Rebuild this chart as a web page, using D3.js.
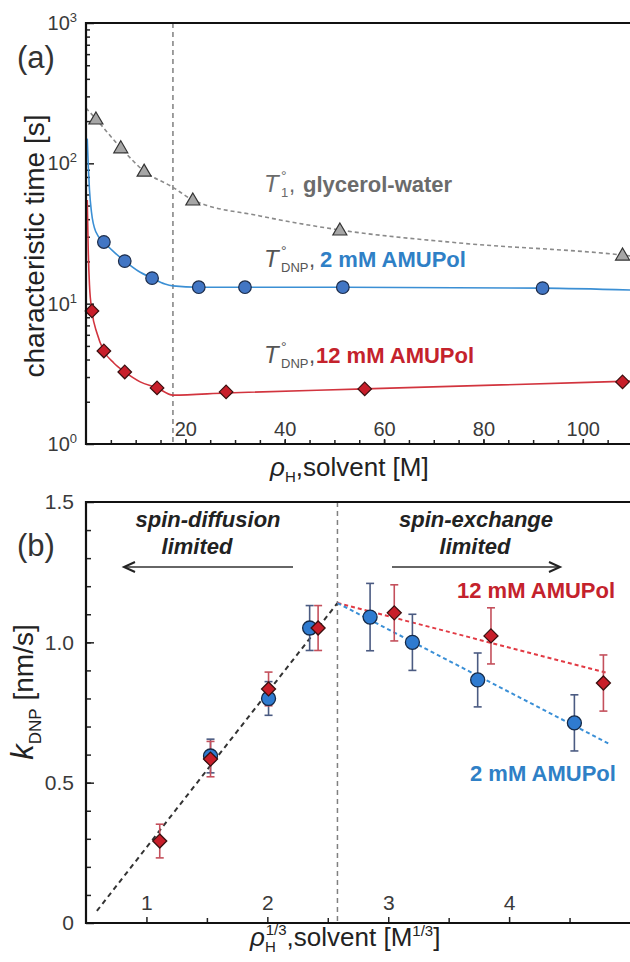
<!DOCTYPE html>
<html>
<head>
<meta charset="utf-8">
<script src="https://cdn.jsdelivr.net/npm/d3@7"></script>
<style>
body{margin:0;background:#fff;}
text{font-family:Arial,"Liberation Sans",Helvetica,sans-serif;}
</style>
</head>
<body>
<svg id="fig" width="630" height="962"></svg>
<script>
// ---- panel (a): characteristic times vs. solvent proton density ----
var t1Rho  = [2.0, 7.0, 11.7, 21.5, 51.1, 108.0];
var t1Time = [207, 129, 88, 54.8, 33.5, 22.2];
var t1FitRho  = [0, 2.0, 7.0, 11.7, 17.4, 21.5, 35, 51.1, 75, 108, 110];
var t1FitTime = [248, 207, 129, 88, 67.8, 54.8, 42.2, 33.5, 27.1, 22.2, 21.8];

var dnp2Rho  = [3.6, 7.8, 13.3, 22.7, 32.0, 51.7, 91.9];
var dnp2Time = [27.5, 20.1, 15.2, 13.1, 13.1, 13.1, 12.9];
var dnp2FitRho  = [0.25, 0.45, 0.7, 1.1, 2.0, 3.6, 5.6, 7.8, 10.5, 13.3, 15.9, 17.5, 22.7, 51.7, 91.9, 110];
var dnp2FitTime = [150, 97.3, 64.6, 45.0, 32.4, 27.5, 23.4, 20.1, 17.1, 15.2, 13.8, 13.4, 13.1, 13.1, 12.9, 12.5];

var dnp12Rho  = [1.2, 3.6, 7.8, 14.3, 28.2, 56.1, 108.0];
var dnp12Time = [8.87, 4.60, 3.26, 2.51, 2.35, 2.47, 2.77];
var dnp12FitRho  = [0.25, 0.45, 0.7, 1.2, 2.2, 3.6, 5.6, 7.8, 10.9, 14.3, 17.5, 28.2, 56.1, 110];
var dnp12FitTime = [54.8, 24.1, 13.6, 8.87, 6.18, 4.60, 3.78, 3.26, 2.77, 2.51, 2.23, 2.31, 2.47, 2.81];

var rhoCross = 17.5;
var topXTicks = [20, 40, 60, 80, 100];
var topYTicks = [1, 10, 100, 1000];

// ---- panel (b): kDNP vs. rho^(1/3) ----
var k12Rho = [1.11, 1.53, 2.01, 2.42, 3.05, 3.85, 4.78];
var k12    = [0.292, 0.584, 0.834, 1.051, 1.105, 1.023, 0.855];
var k12Err = [0.06, 0.063, 0.06, 0.08, 0.10, 0.10, 0.10];
var k2Rho  = [1.53, 2.01, 2.35, 2.85, 3.20, 3.74, 4.54];
var k2     = [0.595, 0.80, 1.051, 1.09, 1.00, 0.866, 0.713];
var k2Err  = [0.06, 0.06, 0.08, 0.12, 0.10, 0.096, 0.10];

var fitLinRho = [0.59, 2.58], fitLinK = [0.043, 1.14];
var fit12Rho  = [2.58, 4.82], fit12K  = [1.14, 0.89];
var fit2Rho   = [2.58, 4.82], fit2K   = [1.14, 0.64];

var rhoCrossCube = 2.58;
var botXTicks = [1, 2, 3, 4];
var botYTicks = [0, 0.5, 1.0, 1.5];

var svg = d3.select("#fig");
var L = 86, R = 630;

function zip(xs, ys) { return xs.map((x, i) => ({x: x, y: ys[i]})); }

// ================= panel (a) =================
var xA = d3.scaleLinear().domain([0, 109.5]).range([L, R]);
var yA = d3.scaleLog().domain([1, 1000]).range([444, 23]);

var gA = svg.append("g");

// minor ticks
var minorLog = [];
[1, 10, 100].forEach(b => d3.range(2, 10).forEach(m => minorLog.push(b * m)));
gA.append("g").attr("transform", `translate(${L},0)`)
  .call(d3.axisLeft(yA).tickValues(minorLog).tickFormat("").tickSize(-4))
  .call(g => g.select(".domain").remove());
gA.append("g").attr("transform", `translate(${L},0)`)
  .call(d3.axisLeft(yA).tickValues(topYTicks).tickSize(-8).tickPadding(9))
  .call(g => g.select(".domain").remove())
  .call(g => g.selectAll("text").each(function(d) {
      var t = d3.select(this).text("").attr("font-size", 20).attr("fill", "#3a3a3a");
      t.append("tspan").text("10");
      t.append("tspan").attr("font-size", 13).attr("dy", "-0.6em").text(Math.round(Math.log10(d)));
  }));

gA.append("g").attr("transform", "translate(0,444)")
  .call(d3.axisTop(xA).tickValues(d3.range(5, 110, 5)).tickFormat("").tickSize(4))
  .call(g => g.select(".domain").remove());
gA.append("g").attr("transform", "translate(0,444)")
  .call(d3.axisTop(xA).tickValues(topXTicks).tickSize(5).tickPadding(3))
  .call(g => g.select(".domain").remove())
  .call(g => g.selectAll("text").attr("font-size", 20).attr("fill", "#3a3a3a"));

gA.selectAll(".tick line").attr("stroke", "#222").attr("stroke-width", 1.5);

// vertical dashed line
gA.append("line")
  .attr("x1", xA(rhoCross)).attr("x2", xA(rhoCross))
  .attr("y1", 23).attr("y2", 444)
  .attr("stroke", "#808080").attr("stroke-width", 1.5).attr("stroke-dasharray", "5,4");

var lineA = d3.line().x(d => xA(d.x)).y(d => yA(d.y)).curve(d3.curveMonotoneX);

gA.append("path").attr("d", lineA(zip(t1FitRho, t1FitTime)))
  .attr("fill", "none").attr("stroke", "#8a8a8a").attr("stroke-width", 1.6).attr("stroke-dasharray", "4,3");
gA.append("path").attr("d", lineA(zip(dnp2FitRho, dnp2FitTime)))
  .attr("fill", "none").attr("stroke", "#3b8fd4").attr("stroke-width", 1.6);
gA.append("path").attr("d", lineA(zip(dnp12FitRho, dnp12FitTime)))
  .attr("fill", "none").attr("stroke", "#d2343e").attr("stroke-width", 1.6);

var triPath = "M0,-7L7,5L-7,5Z";
var diaPath = function(r) { return `M0,${-r}L${r},0L0,${r}L${-r},0Z`; };

gA.selectAll(".tri").data(zip(t1Rho, t1Time)).join("path")
  .attr("d", triPath).attr("transform", d => `translate(${xA(d.x)},${yA(d.y)})`)
  .attr("fill", "#a6a6a6").attr("stroke", "#333").attr("stroke-width", 1.2);
gA.selectAll(".c2").data(zip(dnp2Rho, dnp2Time)).join("circle")
  .attr("cx", d => xA(d.x)).attr("cy", d => yA(d.y)).attr("r", 6.3)
  .attr("fill", "#4276c4").attr("stroke", "#1d2d4a").attr("stroke-width", 1.2);
gA.selectAll(".d12").data(zip(dnp12Rho, dnp12Time)).join("path")
  .attr("d", diaPath(6.8)).attr("transform", d => `translate(${xA(d.x)},${yA(d.y)})`)
  .attr("fill", "#c81e2a").attr("stroke", "#3a1010").attr("stroke-width", 1.2);

// frame
gA.append("path").attr("d", `M${R},23H${L}V444H${R}`)
  .attr("fill", "none").attr("stroke", "#111").attr("stroke-width", 2.2);

// labels in panel (a)
function tLabel(y, sub, commaX, rest, restX, restColor, tColor) {
  var t = svg.append("text").attr("y", y).attr("fill", tColor);
  t.append("tspan").attr("x", 264).attr("font-size", 24).attr("font-style", "italic").text("T");
  t.append("tspan").attr("x", 281).attr("dy", -11).attr("font-size", 14).text("\u00b0");
  t.append("tspan").attr("x", 281).attr("dy", 16).attr("font-size", 13).text(sub);
  t.append("tspan").attr("x", commaX).attr("dy", -5).attr("font-size", 22).text(",");
  t.append("tspan").attr("x", restX).attr("font-size", 22).attr("font-weight", "bold")
    .attr("fill", restColor).text(rest);
}
tLabel(192, "1", 289, "glycerol-water", 303, "#6b6b6b", "#6b6b6b");
tLabel(267, "DNP", 309, "2 mM AMUPol", 320, "#2f80c6", "#555");
tLabel(363, "DNP", 309, "12 mM AMUPol", 316, "#c4222c", "#555");

svg.append("text").attr("x", 17).attr("y", 68).attr("font-size", 31).attr("fill", "#333").text("(a)");

svg.append("text").attr("transform", "translate(44,246) rotate(-90)")
  .attr("text-anchor", "middle").attr("font-size", 28).attr("fill", "#222")
  .text("characteristic time [s]");

var xtA = svg.append("text").attr("x", 270).attr("y", 476).attr("font-size", 26).attr("fill", "#222");
xtA.append("tspan").attr("font-style", "italic").text("\u03c1");
xtA.append("tspan").attr("font-size", 15).attr("dy", 6).text("H");
xtA.append("tspan").attr("dy", -6).text(",solvent [M]");

// ================= panel (b) =================
var xB = d3.scaleLinear().domain([0.5, 5]).range([L, R]);
var yB = d3.scaleLinear().domain([0, 1.5]).range([923, 502]);
var gB = svg.append("g");

gB.append("g").attr("transform", `translate(${L},0)`)
  .call(d3.axisLeft(yB).tickValues(d3.range(1, 15).map(i => i / 10)).tickFormat("").tickSize(-5))
  .call(g => g.select(".domain").remove());
gB.append("g").attr("transform", `translate(${L},0)`)
  .call(d3.axisLeft(yB).tickValues(botYTicks).tickSize(-8).tickPadding(12)
        .tickFormat(d => d === 0 ? "0" : d3.format(".1f")(d)))
  .call(g => g.select(".domain").remove())
  .call(g => g.selectAll("text").attr("font-size", 21).attr("fill", "#3a3a3a"));

gB.append("g").attr("transform", "translate(0,923)")
  .call(d3.axisTop(xB).tickValues([1.5, 2.5, 3.5, 4.5]).tickFormat("").tickSize(5))
  .call(g => g.select(".domain").remove());
gB.append("g").attr("transform", "translate(0,923)")
  .call(d3.axisTop(xB).tickValues(botXTicks).tickSize(6).tickPadding(7).tickFormat(d3.format("d")))
  .call(g => g.select(".domain").remove())
  .call(g => g.selectAll("text").attr("font-size", 21).attr("fill", "#3a3a3a"));

gB.selectAll(".tick line").attr("stroke", "#222").attr("stroke-width", 1.5);

gB.append("line")
  .attr("x1", xB(rhoCrossCube)).attr("x2", xB(rhoCrossCube))
  .attr("y1", 502).attr("y2", 923)
  .attr("stroke", "#808080").attr("stroke-width", 1.5).attr("stroke-dasharray", "5,4");

var lineB = d3.line().x(d => xB(d.x)).y(d => yB(d.y));
gB.append("path").attr("d", lineB(zip(fitLinRho, fitLinK)))
  .attr("fill", "none").attr("stroke", "#333").attr("stroke-width", 2).attr("stroke-dasharray", "5,4");
gB.append("path").attr("d", lineB(zip(fit12Rho, fit12K)))
  .attr("fill", "none").attr("stroke", "#e23a44").attr("stroke-width", 2).attr("stroke-dasharray", "4,3");
gB.append("path").attr("d", lineB(zip(fit2Rho, fit2K)))
  .attr("fill", "none").attr("stroke", "#3a8fd6").attr("stroke-width", 2).attr("stroke-dasharray", "4,3");

function errBars(rho, k, err, color) {
  var d = rho.map((x, i) => ({x: x, y: k[i], e: err[i]}));
  var g = gB.append("g").attr("stroke", color).attr("stroke-width", 1.6);
  g.selectAll(".v").data(d).join("line")
    .attr("x1", d => xB(d.x)).attr("x2", d => xB(d.x))
    .attr("y1", d => yB(d.y - d.e)).attr("y2", d => yB(d.y + d.e));
  g.selectAll(".t").data(d).join("line")
    .attr("x1", d => xB(d.x) - 4).attr("x2", d => xB(d.x) + 4)
    .attr("y1", d => yB(d.y + d.e)).attr("y2", d => yB(d.y + d.e));
  g.selectAll(".b").data(d).join("line")
    .attr("x1", d => xB(d.x) - 4).attr("x2", d => xB(d.x) + 4)
    .attr("y1", d => yB(d.y - d.e)).attr("y2", d => yB(d.y - d.e));
}
errBars(k2Rho, k2, k2Err, "#4b5b82");
errBars(k12Rho, k12, k12Err, "#c4505c");

gB.selectAll(".bc").data(zip(k2Rho, k2)).join("circle")
  .attr("cx", d => xB(d.x)).attr("cy", d => yB(d.y)).attr("r", 7)
  .attr("fill", "#2f7bd0").attr("stroke", "#152a48").attr("stroke-width", 1.3);
gB.selectAll(".bd").data(zip(k12Rho, k12)).join("path")
  .attr("d", diaPath(7)).attr("transform", d => `translate(${xB(d.x)},${yB(d.y)})`)
  .attr("fill", "#c81e2a").attr("stroke", "#3a1010").attr("stroke-width", 1.3);

gB.append("path").attr("d", `M${R},502H${L}V923H${R}`)
  .attr("fill", "none").attr("stroke", "#111").attr("stroke-width", 2.2);

// annotations panel (b)
function bi(x, y, s) {
  svg.append("text").attr("x", x).attr("y", y).attr("text-anchor", "middle")
    .attr("font-size", 22).attr("font-weight", "bold").attr("font-style", "italic")
    .attr("fill", "#222").text(s);
}
bi(208, 527, "spin-diffusion");
bi(197, 554, "limited");
bi(476, 527, "spin-exchange");
bi(475, 554, "limited");

function arrow(x1, x2, y) {
  var dir = x2 > x1 ? 1 : -1;
  svg.append("line").attr("x1", x1).attr("x2", x2).attr("y1", y).attr("y2", y)
    .attr("stroke", "#333").attr("stroke-width", 1.6);
  svg.append("path").attr("d", `M${x2 - dir * 11},${y - 5}L${x2},${y}L${x2 - dir * 11},${y + 5}`)
    .attr("fill", "none").attr("stroke", "#222").attr("stroke-width", 2);
}
arrow(293, 124, 567);
arrow(392, 560, 567);

svg.append("text").attr("x", 457).attr("y", 598).attr("font-size", 22).attr("font-weight", "bold")
  .attr("fill", "#c4222c").text("12 mM AMUPol");
svg.append("text").attr("x", 470).attr("y", 781).attr("font-size", 22).attr("font-weight", "bold")
  .attr("fill", "#2f80c6").text("2 mM AMUPol");

svg.append("text").attr("x", 17).attr("y", 556).attr("font-size", 31).attr("fill", "#333").text("(b)");

var ytB = svg.append("text").attr("transform", "translate(33,692) rotate(-90)")
  .attr("text-anchor", "middle").attr("font-size", 28).attr("fill", "#222");
ytB.append("tspan").attr("font-style", "italic").attr("font-size", 31).text("k");
ytB.append("tspan").attr("font-size", 17).attr("dy", 8).text("DNP");
ytB.append("tspan").attr("dy", -8).text(" [nm/s]");

var xtB = svg.append("text").attr("x", 250).attr("y", 946).attr("font-size", 26).attr("fill", "#222");
xtB.append("tspan").attr("font-style", "italic").text("\u03c1");
xtB.append("tspan").attr("font-size", 15).attr("dy", 6).text("H");
xtB.append("tspan").attr("font-size", 15).attr("dx", -10).attr("dy", -17).text("1/3");
xtB.append("tspan").attr("dy", 11).text(",solvent [M");
xtB.append("tspan").attr("font-size", 15).attr("dy", -10).text("1/3");
xtB.append("tspan").attr("dy", 10).text("]");
</script>
</body>
</html>
